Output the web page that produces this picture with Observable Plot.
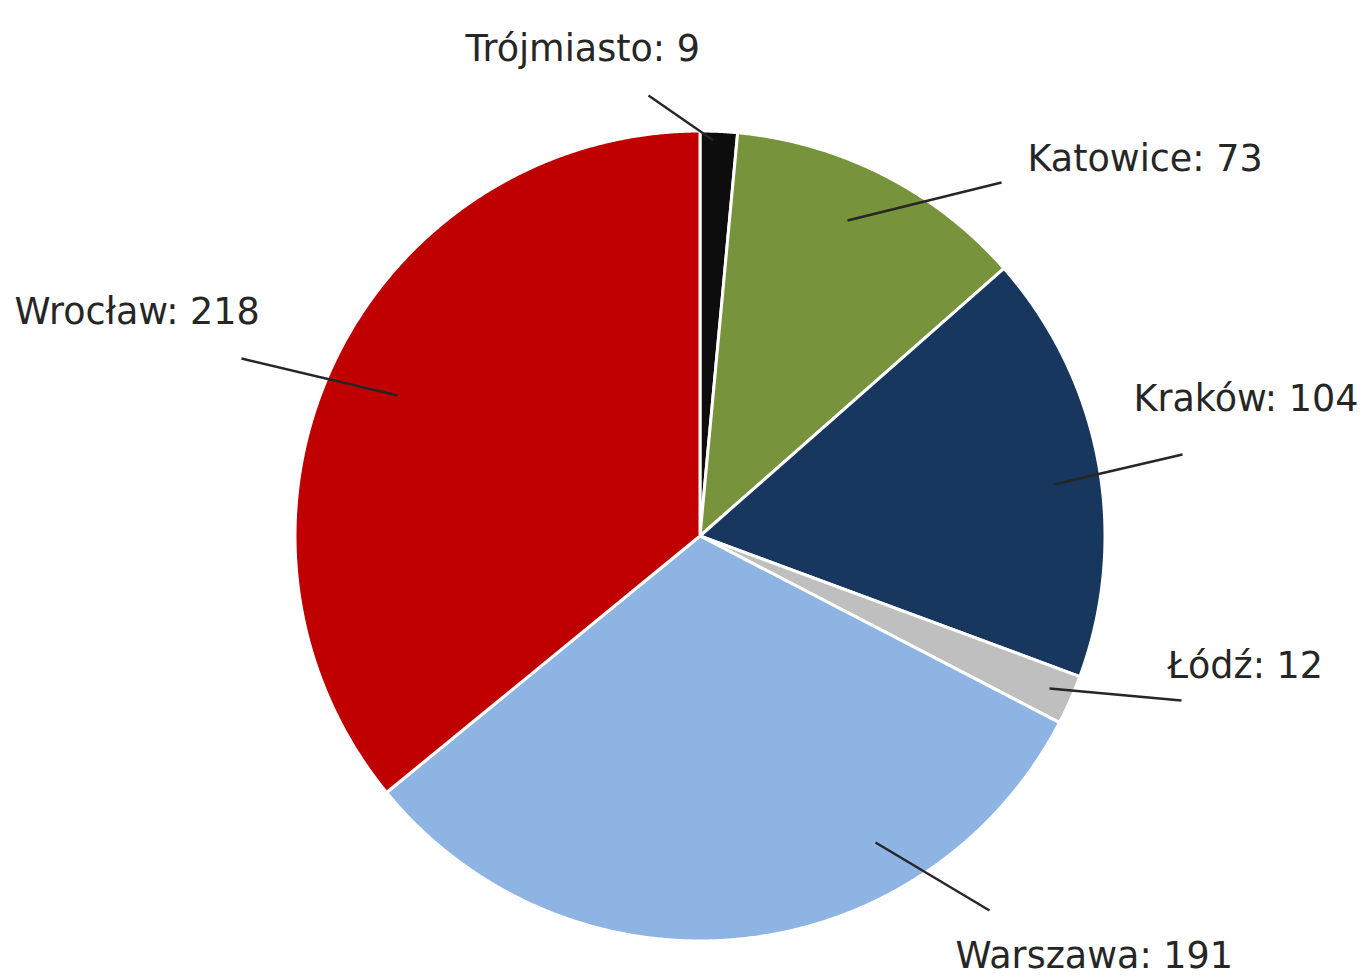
<!DOCTYPE html>
<html>
<head>
<meta charset="utf-8">
<script src="https://cdn.jsdelivr.net/npm/d3@7"></script>
<script src="https://cdn.jsdelivr.net/npm/@observablehq/plot@0.6"></script>
<style>
  html, body { margin: 0; padding: 0; background: #ffffff; }
  #chart svg { display: block; }
</style>
</head>
<body>
<div id="chart"></div>
<script>
// ---- Data ----
const names  = ["Trójmiasto", "Katowice", "Kraków", "Łódź", "Warszawa", "Wrocław"];
const values = [9, 73, 104, 12, 191, 218];
const colors = ["#0d0d0d", "#77933c", "#17375e", "#bfbfbf", "#8eb4e3", "#c00000"];

// ---- Layout (page pixels, separate from data) ----
const cx = 700, cy = 536, R = 405;
const labelAt = [[465, 60], [1027, 170], [1133, 410], [1167, 677], [955, 967], [14, 323]];
const leaderAt = [
  [648, 95, 713, 140],
  [1001, 182, 847, 220],
  [1182, 454, 1053, 484],
  [1181, 700, 1049, 688],
  [989, 910, 875, 842],
  [241, 358, 397, 395]
];
const toU = (px) => (px - cx) / R;
const toV = (py) => (cy - py) / R;

// ---- Build slice geometry from values (clockwise from 12 o'clock) ----
const total = d3.sum(values);
const arcPts = [];
let acc = 0;
names.forEach((name, i) => {
  const a0 = acc / total * 2 * Math.PI;
  acc += values[i];
  const a1 = acc / total * 2 * Math.PI;
  const n = Math.max(2, Math.ceil((a1 - a0) / (Math.PI / 720)));
  for (let k = 0; k <= n; k++) {
    const a = a0 + (a1 - a0) * k / n;
    arcPts.push({name, u: Math.sin(a), v: Math.cos(a)});
  }
});

const labels = names.map((name, i) => ({
  text: `${name}: ${values[i]}`,
  u: toU(labelAt[i][0]), v: toV(labelAt[i][1])
}));
const leaders = names.map((name, i) => ({
  u1: toU(leaderAt[i][0]), v1: toV(leaderAt[i][1]),
  u2: toU(leaderAt[i][2]), v2: toV(leaderAt[i][3])
}));

const chart = Plot.plot({
  width: 1366,
  height: 979,
  margin: 0,
  style: {fontFamily: "'DejaVu Sans', sans-serif", background: "#ffffff"},
  x: {domain: [-1, 1], range: [cx - R, cx + R], axis: null},
  y: {domain: [-1, 1], range: [cy + R, cy - R], axis: null},
  color: {domain: names, range: colors, legend: false},
  marks: [
    Plot.area(arcPts, {
      x1: "u", y1: "v", x2: 0, y2: 0, z: "name",
      fill: "name", stroke: "#ffffff", strokeWidth: 3, strokeLinejoin: "round"
    }),
    Plot.link(leaders, {
      x1: "u1", y1: "v1", x2: "u2", y2: "v2",
      stroke: "#262626", strokeWidth: 2.4
    }),
    Plot.text(labels, {
      x: "u", y: "v", text: "text",
      textAnchor: "start", lineAnchor: "bottom",
      fontSize: 36.5, fill: "#262626"
    })
  ]
});

document.getElementById("chart").appendChild(chart);
</script>
</body>
</html>
